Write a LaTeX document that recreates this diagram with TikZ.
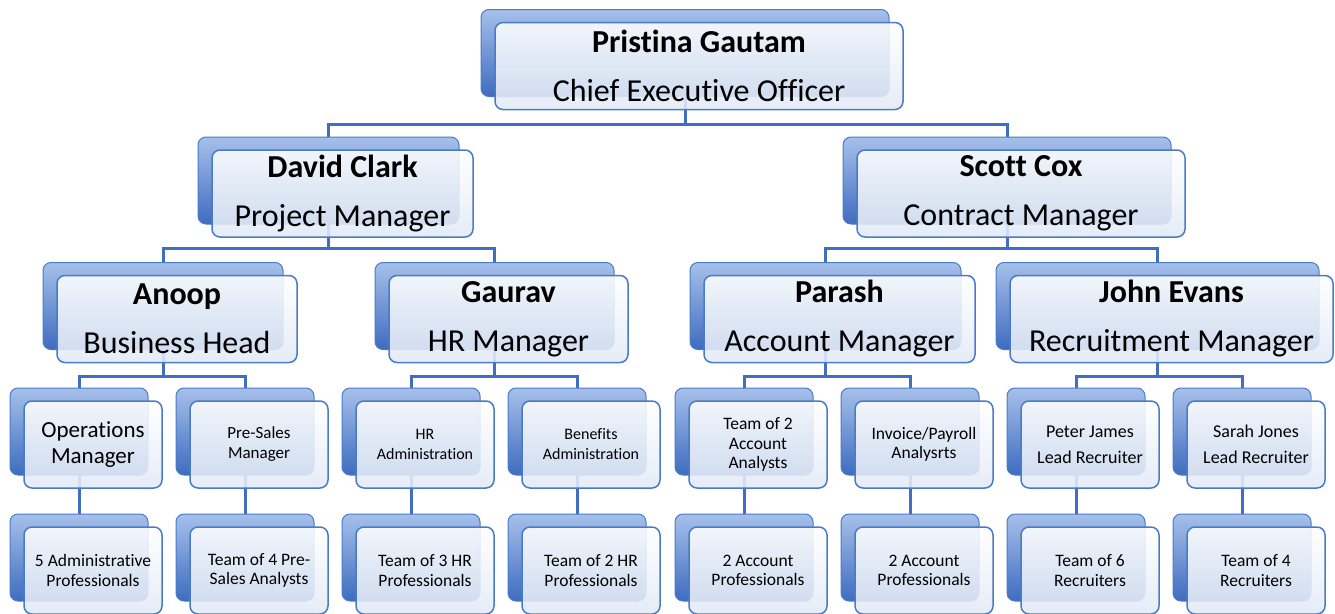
\documentclass[tikz,border=0pt]{standalone}
\usepackage{fontspec}
\setmainfont[Ligatures=NoCommon]{Carlito}
\usepackage{tikz}
\usetikzlibrary{backgrounds}

\definecolor{linkblue}{RGB}{64,110,192}
\definecolor{cardedge}{RGB}{74,123,200}
\definecolor{backtop}{RGB}{166,192,234}
\definecolor{backbot}{RGB}{62,108,192}
\definecolor{frontbot}{RGB}{226,234,246}

\tikzset{
  cardback/.style={draw=cardedge, line width=1pt, rounded corners=8pt,
    top color=backtop, bottom color=backbot, minimum height=87pt, inner sep=0pt},
  cardfront/.style={draw=cardedge, line width=1.5pt, rounded corners=8pt,
    top color=white, bottom color=frontbot, fill opacity=0.88, text opacity=1,
    align=center, inner sep=2pt, minimum height=87pt},
  link/.style={draw=linkblue, line width=3pt},
  bigtext/.style={font=\fontsize{32}{49}\selectfont},
  midtext/.style={font=\fontsize{23}{26}\selectfont},
  smalltext/.style={font=\fontsize{17.5}{19.5}\selectfont},
  leadtext/.style={font=\fontsize{18}{26}\selectfont}
}

\begin{document}
\begin{tikzpicture}[x=1pt,y=-1pt]
  \useasboundingbox (0,0) rectangle (1335,613);

  \node[cardback, minimum width=408pt] (ceo-bk) at (685,53) {};
  \node[cardfront, minimum width=408pt, bigtext] (ceo) at ([shift={(14,13)}]ceo-bk) {\textbf{Pristina Gautam}\\Chief Executive Officer};

  \node[cardback, minimum width=261pt] (david-bk) at (328.5,180.5) {};
  \node[cardfront, minimum width=261pt, bigtext] (david) at ([shift={(14,13)}]david-bk) {\textbf{David Clark}\\Project Manager};
  \node[cardback, minimum width=328pt] (scott-bk) at (1007,180.5) {};
  \node[cardfront, minimum width=328pt, bigtext] (scott) at ([shift={(14,13)}]scott-bk) {\textbf{Scott Cox}\\Contract Manager};

  \node[cardback, minimum width=240pt] (anoop-bk) at (163,306) {};
  \node[cardfront, minimum width=240pt, bigtext] (anoop) at ([shift={(14,13)}]anoop-bk) {\textbf{Anoop}\\Business Head};
  \node[cardback, minimum width=239pt] (gaurav-bk) at (494.5,306) {};
  \node[cardfront, minimum width=239pt, bigtext] (gaurav) at ([shift={(14,13)}]gaurav-bk) {\textbf{Gaurav}\\HR Manager};
  \node[cardback, minimum width=271pt] (parash-bk) at (825.5,306) {};
  \node[cardfront, minimum width=271pt, bigtext] (parash) at ([shift={(14,13)}]parash-bk) {\textbf{Parash}\\Account Manager};
  \node[cardback, minimum width=323pt] (john-bk) at (1157.5,306) {};
  \node[cardfront, minimum width=323pt, bigtext] (john) at ([shift={(14,13)}]john-bk) {\textbf{John Evans}\\Recruitment Manager};

  \node[cardback, minimum width=138pt] (opsmgr-bk) at (79,431.5) {};
  \node[cardfront, minimum width=138pt, midtext] (opsmgr) at ([shift={(14,13)}]opsmgr-bk) {Operations\\Manager};
  \node[cardback, minimum width=138pt] (presales-bk) at (245,431.5) {};
  \node[cardfront, minimum width=138pt, font=\fontsize{17}{20}\selectfont] (presales) at ([shift={(14,13)}]presales-bk) {Pre-Sales\\Manager};
  \node[cardback, minimum width=138pt] (hradmin-bk) at (411,431.5) {};
  \node[cardfront, minimum width=138pt, font=\fontsize{16}{20}\selectfont] (hradmin) at ([shift={(14,13)}]hradmin-bk) {HR\\Administration};
  \node[cardback, minimum width=138pt] (benefits-bk) at (577,431.5) {};
  \node[cardfront, minimum width=138pt, font=\fontsize{16}{20}\selectfont] (benefits) at ([shift={(14,13)}]benefits-bk) {Benefits\\Administration};
  \node[cardback, minimum width=138pt] (accteam-bk) at (744,431.5) {};
  \node[cardfront, minimum width=138pt, smalltext] (accteam) at ([shift={(14,13)}]accteam-bk) {Team of 2\\Account\\Analysts};
  \node[cardback, minimum width=138pt] (invoice-bk) at (910,431.5) {};
  \node[cardfront, minimum width=138pt, smalltext] (invoice) at ([shift={(14,13)}]invoice-bk) {Invoice/Payroll\\Analysrts};
  \node[cardback, minimum width=138pt] (peter-bk) at (1076,431.5) {};
  \node[cardfront, minimum width=138pt, leadtext] (peter) at ([shift={(14,13)}]peter-bk) {Peter James\\Lead Recruiter};
  \node[cardback, minimum width=138pt] (sarah-bk) at (1242,431.5) {};
  \node[cardfront, minimum width=138pt, leadtext] (sarah) at ([shift={(14,13)}]sarah-bk) {Sarah Jones\\Lead Recruiter};

  \node[cardback, minimum width=138pt] (admins-bk) at (79,557.5) {};
  \node[cardfront, minimum width=138pt, smalltext] (admins) at ([shift={(14,13)}]admins-bk) {5 Administrative\\Professionals};
  \node[cardback, minimum width=138pt] (presalesteam-bk) at (245,557.5) {};
  \node[cardfront, minimum width=138pt, smalltext] (presalesteam) at ([shift={(14,13)}]presalesteam-bk) {Team of 4 Pre-\\Sales Analysts};
  \node[cardback, minimum width=138pt] (hrteam3-bk) at (411,557.5) {};
  \node[cardfront, minimum width=138pt, smalltext] (hrteam3) at ([shift={(14,13)}]hrteam3-bk) {Team of 3 HR\\Professionals};
  \node[cardback, minimum width=138pt] (hrteam2-bk) at (577,557.5) {};
  \node[cardfront, minimum width=138pt, smalltext] (hrteam2) at ([shift={(14,13)}]hrteam2-bk) {Team of 2 HR\\Professionals};
  \node[cardback, minimum width=138pt] (acctpro1-bk) at (744,557.5) {};
  \node[cardfront, minimum width=138pt, smalltext] (acctpro1) at ([shift={(14,13)}]acctpro1-bk) {2 Account\\Professionals};
  \node[cardback, minimum width=138pt] (acctpro2-bk) at (910,557.5) {};
  \node[cardfront, minimum width=138pt, smalltext] (acctpro2) at ([shift={(14,13)}]acctpro2-bk) {2 Account\\Professionals};
  \node[cardback, minimum width=138pt] (recruit6-bk) at (1076,557.5) {};
  \node[cardfront, minimum width=138pt, smalltext] (recruit6) at ([shift={(14,13)}]recruit6-bk) {Team of 6\\Recruiters};
  \node[cardback, minimum width=138pt] (recruit4-bk) at (1242,557.5) {};
  \node[cardfront, minimum width=138pt, smalltext] (recruit4) at ([shift={(14,13)}]recruit4-bk) {Team of 4\\Recruiters};

  \coordinate (bus1) at (0,124);
  \coordinate (bus2) at (0,248);
  \coordinate (bus3) at (0,376);
  \begin{pgfonlayer}{background}
    \draw[link] (ceo-bk.center) |- (david-bk.center |- bus1) -- (david-bk.center);
    \draw[link] (ceo-bk.center) |- (scott-bk.center |- bus1) -- (scott-bk.center);
    \draw[link] (david-bk.center) |- (anoop-bk.center |- bus2) -- (anoop-bk.center);
    \draw[link] (david-bk.center) |- (gaurav-bk.center |- bus2) -- (gaurav-bk.center);
    \draw[link] (scott-bk.center) |- (parash-bk.center |- bus2) -- (parash-bk.center);
    \draw[link] (scott-bk.center) |- (john-bk.center |- bus2) -- (john-bk.center);
    \draw[link] (anoop-bk.center) |- (opsmgr-bk.center |- bus3) -- (opsmgr-bk.center);
    \draw[link] (anoop-bk.center) |- (presales-bk.center |- bus3) -- (presales-bk.center);
    \draw[link] (gaurav-bk.center) |- (hradmin-bk.center |- bus3) -- (hradmin-bk.center);
    \draw[link] (gaurav-bk.center) |- (benefits-bk.center |- bus3) -- (benefits-bk.center);
    \draw[link] (parash-bk.center) |- (accteam-bk.center |- bus3) -- (accteam-bk.center);
    \draw[link] (parash-bk.center) |- (invoice-bk.center |- bus3) -- (invoice-bk.center);
    \draw[link] (john-bk.center) |- (peter-bk.center |- bus3) -- (peter-bk.center);
    \draw[link] (john-bk.center) |- (sarah-bk.center |- bus3) -- (sarah-bk.center);
    \draw[link] (opsmgr-bk.center) -- (admins-bk.center);
    \draw[link] (presales-bk.center) -- (presalesteam-bk.center);
    \draw[link] (hradmin-bk.center) -- (hrteam3-bk.center);
    \draw[link] (benefits-bk.center) -- (hrteam2-bk.center);
    \draw[link] (accteam-bk.center) -- (acctpro1-bk.center);
    \draw[link] (invoice-bk.center) -- (acctpro2-bk.center);
    \draw[link] (peter-bk.center) -- (recruit6-bk.center);
    \draw[link] (sarah-bk.center) -- (recruit4-bk.center);
  \end{pgfonlayer}
\end{tikzpicture}
\end{document}
